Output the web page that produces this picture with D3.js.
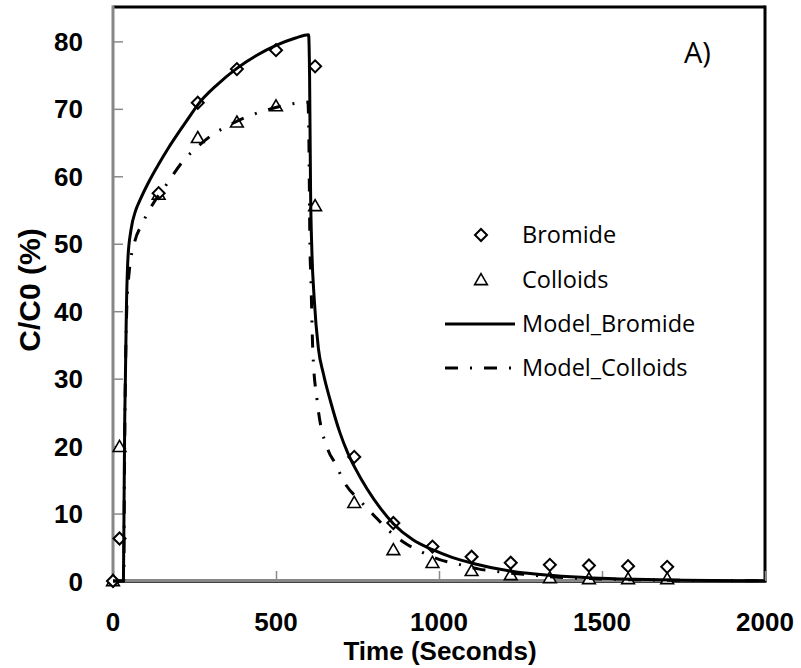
<!DOCTYPE html>
<html>
<head>
<meta charset="utf-8">
<script src="https://cdn.jsdelivr.net/npm/d3@7"></script>
<style>
html,body{margin:0;padding:0;background:#fff;}
svg{display:block;}
</style>
</head>
<body>
<svg id="chart" width="801" height="668"></svg>
<script>
// ---- data ----
const bromideTime = [0, 20, 140, 260, 380, 500, 620, 740, 860, 980, 1100, 1220, 1340, 1460, 1580, 1700];
const bromideObs  = [0, 6.3, 57.5, 70.9, 75.9, 78.7, 76.3, 18.4, 8.6, 5.1, 3.6, 2.7, 2.4, 2.3, 2.2, 2.1];
const colloidTime = [0, 20, 140, 260, 380, 500, 620, 740, 860, 980, 1100, 1220, 1340, 1460, 1580, 1700];
const colloidObs  = [0, 19.9, 57.3, 65.7, 68.0, 70.4, 55.6, 11.6, 4.6, 2.7, 1.5, 0.9, 0.45, 0.3, 0.3, 0.3];

const modelBromideTime = [0, 32, 34, 36, 38, 41, 46, 55, 70, 83, 110, 140, 170, 200, 230, 260, 320, 380, 440, 500, 560, 600,
  603, 606, 610, 617, 630, 645, 668, 696, 720, 742, 780, 820, 860, 920, 982, 1040, 1105, 1227, 1350, 1470, 1600, 1750, 2000];
const modelBromide = [0, 0, 12, 24, 30, 40, 48, 52, 55, 56.5, 59.2, 61.8, 64.2, 66.4, 68.5, 70.6, 73.6, 76, 77.9, 79.4, 80.5, 81,
  75, 58, 49, 42, 34.5, 30.8, 26.5, 22, 19, 16.8, 13.6, 10.8, 8.5, 6.1, 4.6, 3.5, 2.6, 1.4, 0.8, 0.45, 0.25, 0.12, 0.04];

const modelColloidTime = [0, 33, 35, 38, 42, 50, 65, 90, 120, 160, 221, 251, 300, 353, 410, 470, 535, 598,
  601, 604, 607, 613, 626, 660, 681, 710, 760, 805, 843, 900, 951, 1000, 1058, 1120, 1195, 1258, 1350, 1500, 1700, 2000];
const modelColloid = [0, 0, 15, 30, 40, 46, 50, 53, 55.7, 58.5, 62.6, 64, 66, 67.5, 68.8, 69.8, 70.6, 71,
  65, 50, 45, 34, 26.8, 19.4, 17.5, 14.6, 11.8, 9.5, 7.6, 5.5, 4.2, 3.2, 2.5, 1.8, 1.3, 1.0, 0.6, 0.3, 0.12, 0.04];

const xTicks = [0, 500, 1000, 1500, 2000];
const yTicks = [0, 10, 20, 30, 40, 50, 60, 70, 80];
const legendLabels = ["Bromide", "Colloids", "Model_Bromide", "Model_Colloids"];

// ---- layout ----
const svg = d3.select("#chart");
const L = 113, R = 765, T = 7, B = 581;
const x = d3.scaleLinear().domain([0, 2000]).range([L, R]);
const y = d3.scaleLinear().domain([0, 85.1]).range([B, T]);

const boldFont = "'Liberation Sans', Arial, sans-serif";
const regFont = "'Open Sans', sans-serif";

// frame
svg.append("line").attr("x1", L).attr("x2", R).attr("y1", T).attr("y2", T)
  .attr("stroke", "#000").attr("stroke-width", 3);
svg.append("line").attr("x1", R).attr("x2", R).attr("y1", T - 1.5).attr("y2", B + 1)
  .attr("stroke", "#000").attr("stroke-width", 3);
svg.append("line").attr("x1", L).attr("x2", R + 1.5).attr("y1", B + 1).attr("y2", B + 1)
  .attr("stroke", "#000").attr("stroke-width", 1.5);

// axes (gray, inward ticks)
const xAxis = d3.axisBottom(x).tickValues(xTicks).tickSize(-10).tickFormat("");
const yAxis = d3.axisLeft(y).tickValues(yTicks).tickSize(-10).tickFormat("");
const gx = svg.append("g").attr("transform", `translate(0,${B})`).call(xAxis);
const gy = svg.append("g").attr("transform", `translate(${L},0)`).call(yAxis);
[gx, gy].forEach(g => {
  g.select(".domain").attr("stroke", "#878787").attr("stroke-width", 3);
  g.selectAll(".tick line").attr("stroke", "#8a8a8a").attr("stroke-width", 1.5);
});
gy.select(".domain").attr("d", `M0,${T - 1.5}V${B + 1}`);
gx.select(".domain").attr("d", `M${L},-0.5H${R}`);

// tick labels
svg.append("g").selectAll("text").data(xTicks).join("text")
  .attr("x", d => x(d)).attr("y", 631)
  .attr("text-anchor", "middle")
  .style("font-family", boldFont).style("font-weight", "bold").style("font-size", "26px")
  .text(d => d);
svg.append("g").selectAll("text").data(yTicks).join("text")
  .attr("x", 83).attr("y", d => y(d) + 9.5)
  .attr("text-anchor", "end")
  .style("font-family", boldFont).style("font-weight", "bold").style("font-size", "26px")
  .text(d => d);

// axis titles
svg.append("text").attr("x", 440).attr("y", 660).attr("text-anchor", "middle")
  .style("font-family", boldFont).style("font-weight", "bold").style("font-size", "26px")
  .text("Time (Seconds)");
svg.append("text").attr("transform", `translate(40,290) rotate(-90)`).attr("text-anchor", "middle")
  .style("font-family", boldFont).style("font-weight", "bold").style("font-size", "30px")
  .text("C/C0 (%)");

// panel label
svg.append("text").attr("x", 684).attr("y", 63)
  .style("font-family", regFont).style("font-size", "29px")
  .text("A)");

// markers
const diamond = d3.symbol().type(d3.symbolSquare).size(72);
const triangle = d3.symbol().type(d3.symbolTriangle).size(70);

const bromData = bromideTime.map((t, i) => [t, bromideObs[i]]);
const collData = colloidTime.map((t, i) => [t, colloidObs[i]]);

svg.append("g").selectAll("path").data(collData).join("path")
  .attr("d", triangle)
  .attr("transform", d => `translate(${x(d[0])},${y(d[1]) + 1})`)
  .attr("fill", "#fff").attr("stroke", "#000").attr("stroke-width", 1.6);
svg.append("g").selectAll("path").data(bromData).join("path")
  .attr("d", diamond)
  .attr("transform", d => `translate(${x(d[0])},${y(d[1])}) rotate(45)`)
  .attr("fill", "#fff").attr("stroke", "#000").attr("stroke-width", 2);

// model lines
const line = d3.line().x(d => x(d[0])).y(d => y(d[1])).curve(d3.curveMonotoneX);
const mb = modelBromideTime.map((t, i) => [t, modelBromide[i]]);
const mc = modelColloidTime.map((t, i) => [t, modelColloid[i]]);
svg.append("path").datum(mb).attr("d", line)
  .attr("fill", "none").attr("stroke", "#000").attr("stroke-width", 3).attr("stroke-linejoin", "round");
svg.append("path").datum(mc).attr("d", line)
  .attr("fill", "none").attr("stroke", "#000").attr("stroke-width", 3)
  .attr("stroke-dasharray", "13,12,2,12");

// legend
const legY = [235, 280, 324, 368];
const lg = svg.append("g");
lg.append("path").attr("d", diamond).attr("transform", `translate(481,${legY[0]}) rotate(45)`)
  .attr("fill", "#fff").attr("stroke", "#000").attr("stroke-width", 2);
lg.append("path").attr("d", triangle).attr("transform", `translate(481,${legY[1] + 1})`)
  .attr("fill", "#fff").attr("stroke", "#000").attr("stroke-width", 1.6);
lg.append("line").attr("x1", 445).attr("x2", 515).attr("y1", legY[2]).attr("y2", legY[2])
  .attr("stroke", "#000").attr("stroke-width", 3);
lg.append("line").attr("x1", 445).attr("x2", 515).attr("y1", legY[3]).attr("y2", legY[3])
  .attr("stroke", "#000").attr("stroke-width", 3).attr("stroke-dasharray", "13,12,2,12");
lg.selectAll("text").data(legendLabels).join("text")
  .attr("x", 522).attr("y", (d, i) => legY[i] + 8)
  .style("font-family", regFont).style("font-size", "23.5px")
  .text(d => d);
</script>
</body>
</html>
